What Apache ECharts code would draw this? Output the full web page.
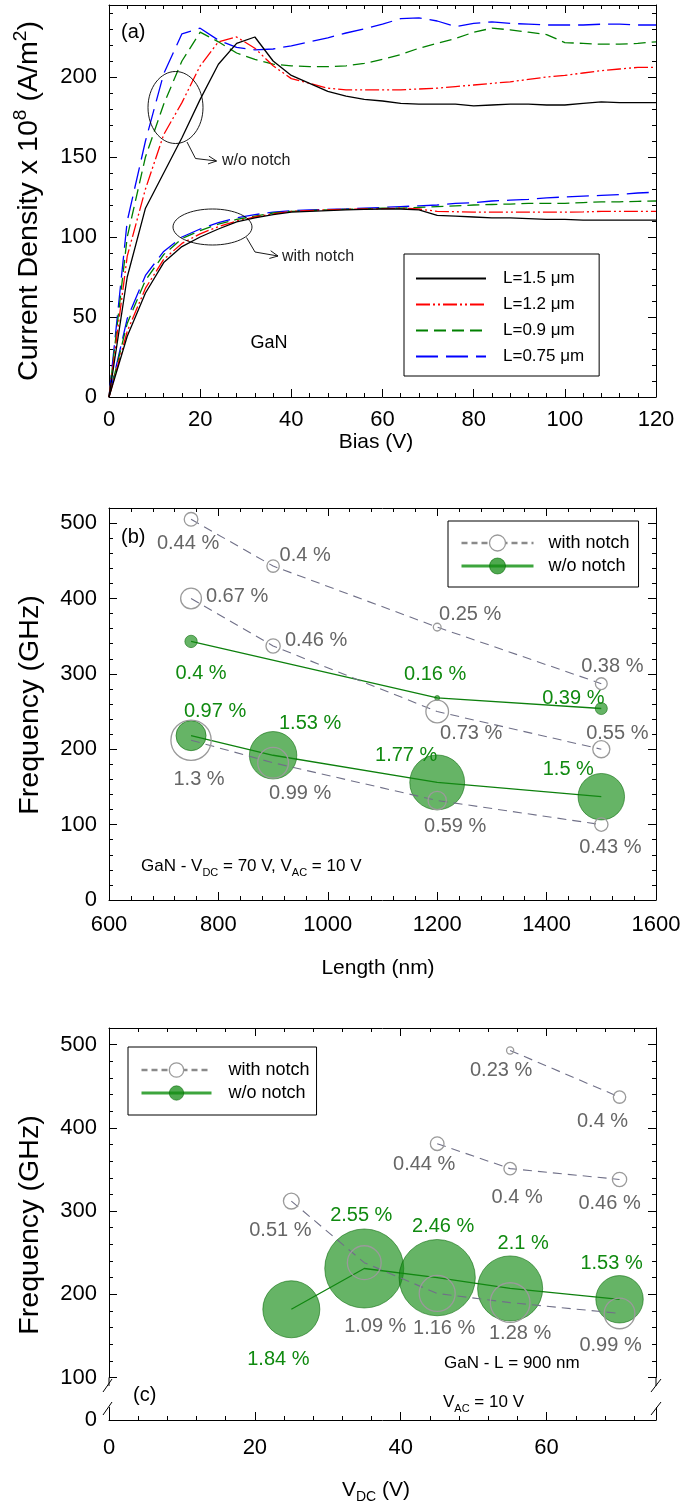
<!DOCTYPE html>
<html>
<head>
<meta charset="utf-8">
<title>GaN current density and oscillation frequency</title>
<script src="https://cdn.jsdelivr.net/npm/echarts@6/dist/echarts.min.js"></script>
<style>
  html, body { margin: 0; padding: 0; background: #fff; }
  #chart { width: 684px; height: 1508px; }
</style>
</head>
<body>
<div id="chart"></div>
<script>
// ---------- (a) current density vs bias ----------
const bias = [0,4,8,12,16,20,24,28,32,36,40,44,48,52,56,60,64,68,72,76,80,84,88,92,96,100,104,108,112,116,120];
const lengthLabels = ['L=1.5 μm', 'L=1.2 μm', 'L=0.9 μm', 'L=0.75 μm'];
// without notch
const jNo15  = [0,75,118,140,162,186,208,221,225,210,201,196,191,188,186,185,183.5,183,183,183,182,182.5,183,183,182.5,182.5,183.5,184.5,184,184,184];
const jNo12  = [0,88,130,164,184,207,222,225,218,207,199,196,193,192,192,192,192,192.5,193,194,195,196,197,198.5,200,201,202.5,204,205,206,206];
const jNo09  = [0,100,150,183,210,228,222,215,211,208,207,206.5,206.5,207,208.5,211,214,218,221,224,228,230.5,229.5,228,226.5,221.5,221,220.5,220.5,221,222];
const jNo075 = [0,110,160,202,227,230.5,223,218.5,217,217.5,219.5,222,224.5,227.5,230,233,236.5,237,235,231.5,233.5,234.5,233.5,233,232.5,232.5,232.5,233,233,232.5,232.5];
// with notch
const jN15  = [0,38,65,84,94,100,105,109.5,112,114,115.5,116,116.5,117,117.3,117.5,117.5,117,113.5,113,112.5,112,112,111.5,111,111,110.5,110.5,110.5,110.5,110.5];
const jN12  = [0,41,68,86,96,102,106.5,110,112.5,114.5,116,116.5,117,117.3,117.5,117.7,118,117.5,116,115.8,115.5,115.5,115.5,115.5,115.5,115.5,115.7,116,116,116,116];
const jN09  = [0,46,73,89,99,104,108,111,113,115,116,116.5,117,117.3,117.5,118,118,118.5,119,119.5,120,120.3,120.6,121,121,121,121.5,122,122,122.3,122.5];
const jN075 = [0,49,76,91,100,105,109,112,114,115.5,116.5,117,117.3,117.5,118,118.5,119,119.5,120,121,121.5,122.5,123,123.5,124.5,125,125.5,126,126.5,127.5,128];

// ---------- (b) frequency vs length (V_DC = 70 V) ----------
const lengthNm   = [750, 900, 1200, 1500];
const lengthNmA  = [750, 1200, 1500];
const fbNotch1 = [505, 443, 362, 287];  const ebNotch1 = [0.44, 0.4, 0.25, 0.38];
const fbNotch2 = [400, 337, 250, 200];  const ebNotch2 = [0.67, 0.46, 0.73, 0.55];
const fbNotch3 = [212, 182, 132, 100];  const ebNotch3 = [1.3, 0.99, 0.59, 0.43];
const fbNoA    = [343, 268, 254];       const ebNoA    = [0.4, 0.16, 0.39];
const fbNoB    = [218, 192, 156, 137];  const ebNoB    = [0.97, 1.53, 1.77, 1.5];

// ---------- (c) frequency vs V_DC (L = 900 nm) ----------
const vdc1 = [55, 70];              const fcNotch1 = [493, 437];               const ecNotch1 = [0.23, 0.4];
const vdc2 = [45, 55, 70];          const fcNotch2 = [381, 351, 338];          const ecNotch2 = [0.44, 0.4, 0.46];
const vdc3 = [25, 35, 45, 55, 70];  const fcNotch3 = [312, 238, 201, 190, 177];const ecNotch3 = [0.51, 1.09, 1.16, 1.28, 0.99];
const fcNo = [182, 231, 220, 207, 194];  const ecNo = [1.84, 2.55, 2.46, 2.1, 1.53];

// ---------- styling / layout ----------
const FONT = '"Liberation Sans", Arial, Helvetica, sans-serif';
const TICK_FONT = 22;
const BUBBLE_PX = 31;            // symbol diameter (px) per 1 % efficiency
const GREEN_TXT = '#108a10';
const GRAY_TXT = '#666666';

const curveStyles = [
  { color: '#000000', type: 'solid' },
  { color: '#ff0000', type: [14, 3, 2, 3, 2, 3] },
  { color: '#008000', type: [12, 6] },
  { color: '#0000ff', type: [22, 8] }
];
const notchLine = { color: '#707088', width: 1.1, type: [9, 6] };
const notchItem = { color: 'rgba(255,255,255,0)', borderColor: '#9a9a9a', borderWidth: 1.3 };
const noNotchLine = { color: '#0d800d', width: 1.3, type: 'solid' };
const noNotchItem = { color: 'rgba(20,140,20,0.65)', borderColor: 'rgba(0,100,0,0.55)', borderWidth: 1 };

// label offsets (px) from each symbol centre
const offB = {
  n1: [[-3,24],[32,-11],[33,-13],[11,-17]],
  n2: [[46,-2],[43,-5],[34,22],[16,-16]],
  n3: [[8,39],[27,31],[18,26],[9,23]],
  a:  [[10,32],[-2,-23],[-28,-10]],
  b:  [[24,-24],[37,-32],[-31,-27],[-33,-27]]
};
const offC = {
  n1: [[-9,20],[-17,24]],
  n2: [[-13,21],[7,29],[-10,24]],
  n3: [[-11,29],[11,64],[7,35],[10,31],[-9,32]],
  no: [[-13,50],[-3,-53],[6,-51],[13,-45],[-8,-36]]
};

const grids = [
  { left: 109, top: 5,      width: 547, height: 392 },    // (a)
  { left: 109, top: 508,    width: 547, height: 392 },    // (b)
  { left: 109, top: 1028,   width: 547, height: 349.5 },  // (c) upper part, 100-520
  { left: 109, top: 1407.5, width: 547, height: 12.5 }    // (c) lower part, 0-15
];

const xAxes = [], yAxes = [];
function frame(list, gridIndex, mainPos, mirrorPos, o) {
  const base = { gridIndex, type: 'value', min: o.min, max: o.max, splitLine: { show: false },
                 silent: true, axisPointer: { show: false } };
  const line = { show: true, onZero: false, lineStyle: { color: '#000', width: 1 } };
  const noLine = { show: false, onZero: false };
  const major = { show: true, inside: true, length: 8, lineStyle: { color: '#000', width: 1 } };
  const minor = { show: true, inside: true, length: 4, lineStyle: { color: '#000', width: 1 } };
  list.push(Object.assign({}, base, {
    position: mainPos, interval: o.major,
    axisLine: o.lineMain === false ? noLine : line,
    axisTick: o.ticksMain === false ? { show: false } : major,
    axisLabel: { show: !!o.labels, fontSize: TICK_FONT, fontFamily: FONT, color: '#000',
                 margin: o.margin || 12, formatter: o.fmt }
  }));
  const idx = list.length - 1;
  if (o.ticksMain !== false) {
    list.push(Object.assign({}, base, { position: mainPos, interval: o.minor,
      axisLine: noLine, axisTick: minor, axisLabel: { show: false } }));
  }
  if (o.mirror !== false) {
    list.push(Object.assign({}, base, { position: mirrorPos, interval: o.major,
      axisLine: line, axisTick: o.mirrorTicks === false ? { show: false } : major, axisLabel: { show: false } }));
    if (o.mirrorTicks !== false) {
      list.push(Object.assign({}, base, { position: mirrorPos, interval: o.minor,
        axisLine: noLine, axisTick: minor, axisLabel: { show: false } }));
    }
  }
  return idx;
}
const every = step => v => (Math.abs(v % step) < 1e-9 ? String(v) : '');

const ax = {
  a: { x: frame(xAxes, 0, 'bottom', 'top',  { min: 0, max: 120, major: 20, minor: 4, labels: true, fmt: every(20), margin: 12 }),
       y: frame(yAxes, 0, 'left', 'right',  { min: 0, max: 245, major: 50, minor: 10, labels: true, fmt: every(50), margin: 12 }) },
  b: { x: frame(xAxes, 1, 'bottom', 'top',  { min: 600, max: 1600, major: 200, minor: 40, labels: true, fmt: every(200), margin: 14 }),
       y: frame(yAxes, 1, 'left', 'right',  { min: 0, max: 520, major: 100, minor: 20, labels: true, fmt: every(100), margin: 12 }) },
  c: { x: frame(xAxes, 2, 'bottom', 'top',  { min: 0, max: 75, major: 20, minor: 4, lineMain: false, ticksMain: false }),
       y: frame(yAxes, 2, 'left', 'right',  { min: 100, max: 520, major: 100, minor: 20, labels: true, fmt: every(100), margin: 12 }) },
  d: { x: frame(xAxes, 3, 'bottom', 'top',  { min: 0, max: 75, major: 20, minor: 4, labels: true, fmt: every(20), margin: 17, mirror: false }),
       y: frame(yAxes, 3, 'left', 'right',  { min: 0, max: 15, major: 15, minor: 15, labels: true, fmt: v => (v === 0 ? '0' : ''),
                                               margin: 12, ticksMain: false, mirrorTicks: false }) }
};

// ---------- series ----------
const series = [];
const noNotchSets = [jNo15, jNo12, jNo09, jNo075];
const notchSets = [jN15, jN12, jN09, jN075];
lengthLabels.forEach((name, i) => {
  [noNotchSets[i], notchSets[i]].forEach(ys => {
    series.push({
      type: 'line', name, xAxisIndex: ax.a.x, yAxisIndex: ax.a.y,
      data: bias.map((b, k) => [b, ys[k]]),
      symbol: 'none', smooth: false, silent: true, z: 3 + (3 - i),
      lineStyle: { color: curveStyles[i].color, type: curveStyles[i].type, width: 1.3 },
      itemStyle: { color: curveStyles[i].color },
      emphasis: { disabled: true }
    });
  });
});

function bubbleSeries(name, axes, xs, ys, pcts, offsets, notch) {
  return {
    type: 'line', name, xAxisIndex: axes.x, yAxisIndex: axes.y,
    z: notch ? 4 : 2, silent: true, symbol: 'circle', showAllSymbol: true,
    data: xs.map((x, i) => ({ value: [x, ys[i]], symbolSize: pcts[i] * BUBBLE_PX })),
    lineStyle: notch ? notchLine : noNotchLine,
    itemStyle: notch ? notchItem : noNotchItem,
    label: { show: true, position: 'inside', fontSize: 20, fontFamily: FONT,
             color: notch ? GRAY_TXT : GREEN_TXT,
             formatter: p => pcts[p.dataIndex] + ' %' },
    labelLayout: p => ({ dx: offsets[p.dataIndex][0], dy: offsets[p.dataIndex][1], hideOverlap: false }),
    emphasis: { disabled: true }
  };
}
series.push(
  bubbleSeries('w/o notch', ax.b, lengthNmA, fbNoA, ebNoA, offB.a, false),
  bubbleSeries('w/o notch', ax.b, lengthNm, fbNoB, ebNoB, offB.b, false),
  bubbleSeries('with notch', ax.b, lengthNm, fbNotch1, ebNotch1, offB.n1, true),
  bubbleSeries('with notch', ax.b, lengthNm, fbNotch2, ebNotch2, offB.n2, true),
  bubbleSeries('with notch', ax.b, lengthNm, fbNotch3, ebNotch3, offB.n3, true),
  bubbleSeries('w/o notch', ax.c, vdc3, fcNo, ecNo, offC.no, false),
  bubbleSeries('with notch', ax.c, vdc1, fcNotch1, ecNotch1, offC.n1, true),
  bubbleSeries('with notch', ax.c, vdc2, fcNotch2, ecNotch2, offC.n2, true),
  bubbleSeries('with notch', ax.c, vdc3, fcNotch3, ecNotch3, offC.n3, true)
);

// ---------- legends ----------
const legendText = { fontSize: 17, fontFamily: FONT, color: '#000' };
const bubbleLegendData = [
  { name: 'with notch', lineStyle: { color: '#8a8a8a', width: 2.5, type: [6, 4] },
    itemStyle: { color: '#ffffff', borderColor: '#9a9a9a', borderWidth: 1.3 } },
  { name: 'w/o notch', lineStyle: { color: '#3da53d', width: 3, type: 'solid' },
    itemStyle: { color: 'rgba(20,140,20,0.75)', borderColor: 'rgba(0,100,0,0.55)', borderWidth: 1 } }
];
const legends = [
  { left: 404, top: 254, orient: 'vertical', itemWidth: 70, itemHeight: 14, itemGap: 9,
    padding: [16, 15, 11, 11], borderColor: '#000', borderWidth: 1, selectedMode: false,
    itemStyle: { color: 'rgba(0,0,0,0)', borderWidth: 0, opacity: 0 },
    textStyle: Object.assign({ padding: [0, 0, 0, 12] }, legendText), data: lengthLabels },
  { left: 448, top: 521, orient: 'vertical', itemWidth: 72, itemHeight: 20, itemGap: 5,
    padding: [13, 9, 12, 12], borderColor: '#000', borderWidth: 1, selectedMode: false,
    textStyle: Object.assign({ padding: [0, 0, 0, 10] }, legendText, { fontSize: 18 }), data: bubbleLegendData },
  { left: 128, top: 1047, orient: 'vertical', itemWidth: 70, itemHeight: 18, itemGap: 5,
    padding: [14, 7, 13, 12], borderColor: '#000', borderWidth: 1, selectedMode: false,
    textStyle: Object.assign({ padding: [0, 0, 0, 12] }, legendText, { fontSize: 18 }), data: bubbleLegendData }
];

// ---------- titles and annotations ----------
const rich = size => ({
  n:   { fontSize: size, fontFamily: FONT, color: '#000', lineHeight: size + 8 },
  sup: { fontSize: Math.round(size * 0.65), fontFamily: FONT, color: '#000', verticalAlign: 'top', lineHeight: 12 },
  sub: { fontSize: Math.round(size * 0.65), fontFamily: FONT, color: '#000', verticalAlign: 'bottom', lineHeight: 12 }
});
function label(x, y, text, size, opts) {
  opts = opts || {};
  return {
    type: 'text', x, y, rotation: opts.rotation || 0, scaleX: opts.stretch || 1, silent: true, z: 10,
    style: { text, fill: opts.color || '#000', fontSize: size, fontFamily: FONT,
             align: opts.align || 'center', verticalAlign: 'middle',
             textAlign: opts.align || 'center', textVerticalAlign: 'middle',
             rich: opts.rich ? rich(size) : undefined }
  };
}
function stroke(points, w) {
  return { type: 'polyline', silent: true, z: 10, shape: { points },
           style: { stroke: '#000', lineWidth: w || 1, fill: null } };
}
function arrowTo(pts) {
  const [x1, y1] = pts[pts.length - 2], [x2, y2] = pts[pts.length - 1];
  const ang = Math.atan2(y2 - y1, x2 - x1), L = 9, s = 0.45;
  return [stroke(pts, 0.9),
          stroke([[x2 - L * Math.cos(ang - s), y2 - L * Math.sin(ang - s)], [x2, y2],
                  [x2 - L * Math.cos(ang + s), y2 - L * Math.sin(ang + s)]], 0.9)];
}
const Y_TITLE = { rotation: Math.PI / 2, stretch: 1.06 };
const graphic = [
  // (a)
  label(121, 32, '(a)', 20, { align: 'left' }),
  label(269, 343, 'GaN', 18),
  { type: 'ellipse', silent: true, z: 10, shape: { cx: 175.5, cy: 107.5, rx: 27.5, ry: 36 },
    style: { stroke: '#000', lineWidth: 0.9, fill: null } },
  ...arrowTo([[187, 142], [195.5, 158.5], [216.5, 161]]),
  label(222, 161, 'w/o notch', 16, { align: 'left', color: '#222' }),
  { type: 'ellipse', silent: true, z: 10, shape: { cx: 212.5, cy: 227, rx: 39.5, ry: 18 },
    style: { stroke: '#000', lineWidth: 0.9, fill: null } },
  ...arrowTo([[246.5, 237.5], [255, 252], [278, 256]]),
  label(282, 257, 'with notch', 16, { align: 'left', color: '#222' }),
  label(30, 201, '{n|Current Density x 10}{sup|8}{n| (A/m}{sup|2}{n|)}', 27, Object.assign({ rich: true }, Y_TITLE)),
  label(376, 442, 'Bias (V)', 21),
  // (b)
  label(121, 537, '(b)', 20, { align: 'left' }),
  label(141, 866, '{n|GaN - V}{sub|DC}{n| = 70 V, V}{sub|AC}{n| = 10 V}', 17, { align: 'left', rich: true }),
  label(31, 705, 'Frequency (GHz)', 27, Y_TITLE),
  label(378, 968, 'Length (nm)', 21),
  // (c)
  label(133, 1395, '(c)', 20, { align: 'left' }),
  label(444, 1363, 'GaN - L = 900 nm', 17, { align: 'left' }),
  label(443, 1402, '{n|V}{sub|AC}{n| = 10 V}', 17, { align: 'left', rich: true }),
  label(31, 1225, 'Frequency (GHz)', 27, Y_TITLE),
  label(376, 1490, '{n|V}{sub|DC}{n| (V)}', 21, { rich: true }),
  // axis break marks of (c)
  stroke([[109, 1377.5], [109, 1386]]), stroke([[656, 1377.5], [656, 1386]]),
  stroke([[103, 1392], [112, 1379]]), stroke([[103, 1415], [112, 1402]]),
  stroke([[651, 1392], [661, 1379]]), stroke([[651, 1415], [661, 1402]])
];

const chart = echarts.init(document.getElementById('chart'), null, { renderer: 'canvas', width: 684, height: 1508 });
chart.setOption({
  backgroundColor: '#ffffff',
  animation: false,
  textStyle: { fontFamily: FONT },
  grid: grids.map(g => Object.assign({ containLabel: false, outerBoundsMode: 'none', show: false }, g)),
  xAxis: xAxes,
  yAxis: yAxes,
  legend: legends,
  series,
  graphic
});
</script>
</body>
</html>
